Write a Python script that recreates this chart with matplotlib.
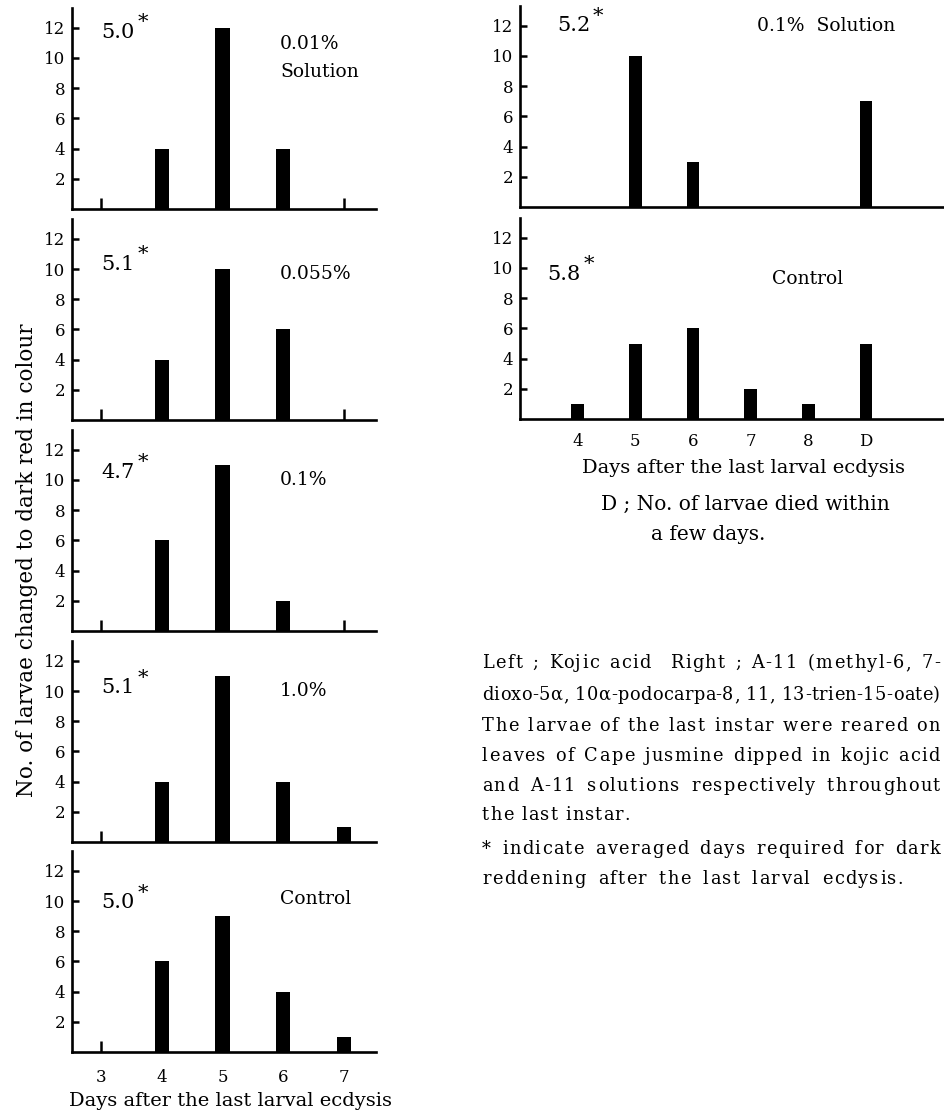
"""Days to dark reddening of larvae, kojic acid (left) vs A-11 (right)."""

import matplotlib
matplotlib.use('Agg')
import matplotlib.pyplot as plt
from matplotlib.font_manager import FontProperties

W, H = 945, 1115

# left column: kojic acid, days 3..7
left_days = [3, 4, 5, 6, 7]
left_labels = ['3', '4', '5', '6', '7']
left_counts = [
    [0, 4, 12, 4, 0],
    [0, 4, 10, 6, 0],
    [0, 6, 11, 2, 0],
    [0, 4, 11, 4, 1],
    [0, 6, 9, 4, 1],
]
left_means = ['5.0', '5.1', '4.7', '5.1', '5.0']
left_conc = ['0.01%\nSolution', '0.055%', '0.1%', '1.0%', 'Control']

# right column: A-11, days 4..8 and D (died)
right_days = [4, 5, 6, 7, 8, 9]
right_labels = ['4', '5', '6', '7', '8', 'D']
right_counts = [
    [0, 10, 3, 0, 0, 7],
    [1, 5, 6, 2, 1, 5],
]
right_means = ['5.2', '5.8']
right_conc = ['0.1%  Solution', 'Control']

# caption lines and the printed width (px) each one fills
caption = [
    'Left ; Kojic acid  Right ; A-11 (methyl-6, 7-',
    'dioxo-5\u03b1, 10\u03b1-podocarpa-8, 11, 13-trien-15-oate)',
    'The larvae of the last instar were reared on',
    'leaves of Cape jusmine dipped in kojic acid',
    'and A-11 solutions respectively throughout',
    'the last instar.',
    '* indicate averaged days required for dark',
    'reddening after the last larval ecdysis.',
]
caption_width = [458, 458, 458, 458, 458, 146, 458, 421]

plt.rcParams['font.family'] = ['DejaVu Serif']
fig = plt.figure(figsize=(W / 100, H / 100), dpi=100)

YTOP = 13.3
UNIT = 15.1  # px per count


def add_panel(x0, x1, ybase):
    h = YTOP * UNIT
    return fig.add_axes([x0 / W, 1 - ybase / H, (x1 - x0) / W, h / H])


def style_axes(ax, xlim):
    ax.set_xlim(*xlim)
    ax.set_ylim(0, YTOP)
    for side in ('top', 'right'):
        ax.spines[side].set_visible(False)
    for side in ('left', 'bottom'):
        ax.spines[side].set_linewidth(1.9)
    ax.set_yticks([2, 4, 6, 8, 10, 12])
    ax.tick_params(axis='y', direction='in', length=5, width=1.8,
                   labelsize=12, pad=5)


def add_mean(ax, x, y, s, size=15):
    t = ax.text(x, y, s, fontsize=size, ha='left', va='center')
    ax.annotate('*', xy=(1, 0.5), xycoords=t, xytext=(2, 0),
                textcoords='offset points', fontsize=15,
                ha='left', va='bottom')


left_bases = [209, 420, 631, 842, 1052]
mean_y = [11.7, 10.3, 10.5, 10.2, 9.9]
conc_y = [10.0, 9.7, 10.0, 10.0, 10.1]
for i, ybase in enumerate(left_bases):
    ax = add_panel(72, 376, ybase)
    style_axes(ax, (2.52, 7.53))
    ax.bar(left_days, left_counts[i], width=0.24, color='black')
    ax.set_xticks(left_days)
    ax.tick_params(axis='x', direction='in', length=8, width=1.8,
                   labelsize=12, pad=12)
    if i < len(left_bases) - 1:
        ax.set_xticklabels([])
    else:
        ax.set_xticklabels(left_labels)
        ax.set_xlabel('Days after the last larval ecdysis', fontsize=14,
                      labelpad=5)
        ax.xaxis.set_label_coords((231 - 72) / (376 - 72), -0.2)
    add_mean(ax, 3.0, mean_y[i], left_means[i])
    ax.text(5.95, conc_y[i], left_conc[i], fontsize=13.5, ha='left',
            va='center', linespacing=1.7)

right_bases = [207, 419]
r_mean_y = [12.0, 9.6]
r_conc = [(7.12, 12.0), (7.37, 9.3)]
for i, ybase in enumerate(right_bases):
    ax = add_panel(520, 950, ybase)
    style_axes(ax, (3.0, 10.46))
    ax.bar(right_days, right_counts[i], width=0.22, color='black')
    ax.set_xticks(right_days)
    ax.tick_params(axis='x', length=0, labelsize=12, pad=10)
    if i == 0:
        ax.set_xticklabels([])
    else:
        ax.set_xticklabels(right_labels)
        ax.set_xlabel('Days after the last larval ecdysis', fontsize=14,
                      labelpad=6)
        ax.xaxis.set_label_coords((744 - 520) / (950 - 520), -0.2)
    add_mean(ax, 3.48 if i else 3.64, r_mean_y[i], right_means[i])
    ax.text(r_conc[i][0], r_conc[i][1], right_conc[i], fontsize=13.5,
            ha='left', va='center')

fig.text(745 / W, 1 - 504 / H, 'D ; No. of larvae died within',
         fontsize=14.5, ha='center', va='center')
fig.text(651 / W, 1 - 534 / H, 'a few days.', fontsize=14.5,
         ha='left', va='center')

fig.text(27 / W, 1 - 560 / H, 'No. of larvae changed to dark red in colour',
         fontsize=15.5, rotation=90, ha='center', va='center')

# caption: letter-spaced and justified like the printed page
renderer = fig.canvas.get_renderer()
prop = FontProperties(family='DejaVu Serif', size=12.8)


def text_w(s):
    return renderer.get_text_width_height_descent(s, prop, ismath=False)[0]


bar_w = text_w('|')
cap_x0 = 482
cap_y = [663, 695, 726, 756, 786, 815, 849, 879]
for line, target, y in zip(caption, caption_width, cap_y):
    n = len(line)
    n_sp = line.count(' ')
    extra = target - text_w(line)
    track = 1.4
    word_gap = (extra - track * (n - 1)) / max(n_sp, 1)
    if word_gap < 0:
        word_gap = 0.0
        track = extra / (n - 1)
    spaces = 0
    for i, ch in enumerate(line):
        if ch == ' ':
            spaces += 1
            continue
        x = cap_x0 + text_w(line[:i] + '|') - bar_w + track * i \
            + word_gap * spaces
        fig.text(x / W, 1 - y / H, ch, fontproperties=prop, ha='left',
                 va='center')

fig.savefig('out.png', dpi=100)
